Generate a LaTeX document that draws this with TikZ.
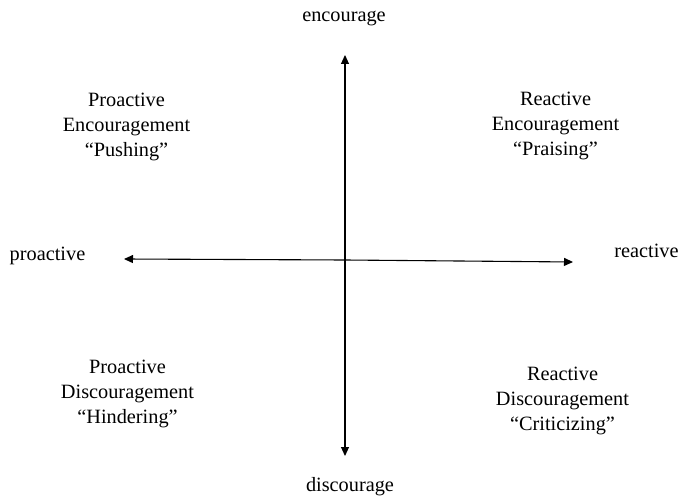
\documentclass[tikz,border=0pt]{standalone}
\usepackage{fontspec}
\setmainfont{Liberation Serif}
\usetikzlibrary{arrows.meta}
\begin{document}
\begin{tikzpicture}[x=1pt,y=-1pt,
  lbl/.style={font=\fontsize{20.3}{25}\selectfont, inner sep=0pt, align=center},
  word/.style={font=\fontsize{20.3}{25}\selectfont, inner sep=0pt, text height=10pt, text depth=0pt},
  axis/.style={line width=1.1pt, -{Triangle[length=9pt,width=8pt]}}]
\useasboundingbox (0,0) rectangle (680,497);
\coordinate (O) at (345,260);
\coordinate (T) at (345,55);
\coordinate (B) at (345,456);
\coordinate (L) at (124,259);
\coordinate (R) at (573,262);
\draw[axis] (O) -- (T);
\draw[axis] (O) -- (B);
\draw[axis] (O) -- (L);
\draw[axis] (O) -- (R);
\node[word] (enc) at (344,17) {encourage};
\node[word] (dis) at (350,486) {discourage};
\node[word] (pro) at (47.5,255) {proactive};
\node[word] (rea) at (646.5,253) {reactive};
\node[lbl] (q1) at (126.5,127) {Proactive\\Encouragement\\“Pushing”};
\node[lbl] (q2) at (555.5,126) {Reactive\\Encouragement\\“Praising”};
\node[lbl] (q3) at (127.5,394) {Proactive\\Discouragement\\“Hindering”};
\node[lbl] (q4) at (562.5,401) {Reactive\\Discouragement\\“Criticizing”};
\end{tikzpicture}
\end{document}
